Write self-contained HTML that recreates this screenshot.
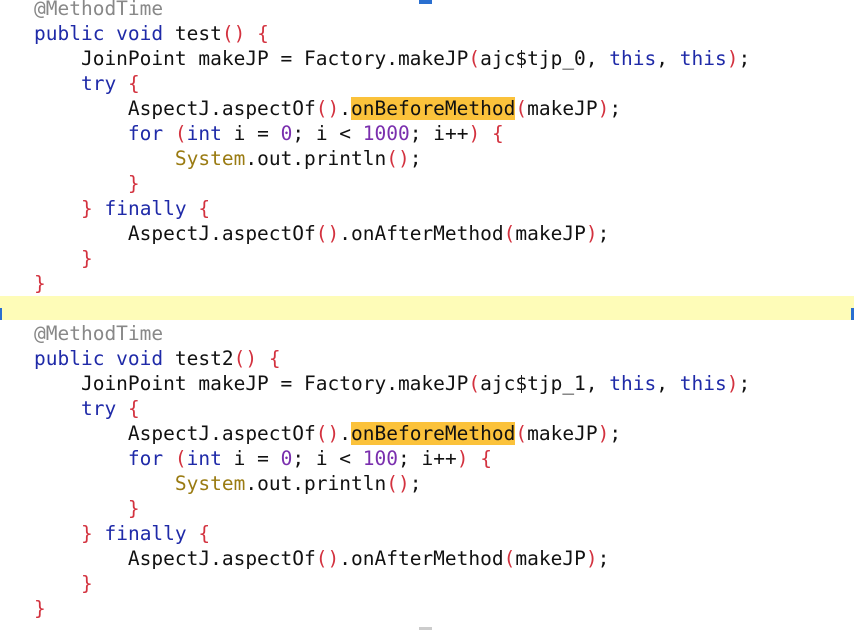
<!DOCTYPE html>
<html><head><meta charset="utf-8"><style>
html,body{margin:0;padding:0;background:#fff;width:854px;height:630px;overflow:hidden;position:relative}
.band{position:absolute;left:0;top:296px;width:854px;height:24px;background:#fefcb8}
.mk{position:absolute;background:#2a6fd0}
pre{position:absolute;left:34px;top:-4.5px;margin:0;font-family:"DejaVu Sans Mono","Liberation Mono",monospace;font-size:19.5px;line-height:25px;color:#111}
.k{color:#1f2aa8}.p{color:#d3323f}.n{color:#7a2fae}.a{color:#888}.s{color:#9a7b12}
.h{background:#fbc23b}
</style></head><body>
<div class="band"></div>
<div class="mk" style="left:419px;top:0;width:13px;height:4px"></div>
<div class="mk" style="left:0;top:308px;width:2px;height:12px"></div>
<div class="mk" style="left:851px;top:308px;width:3px;height:12px"></div>
<div class="mk" style="left:419px;top:627px;width:13px;height:3px;background:#ccc"></div>
<pre><span class="a">@MethodTime</span>
<span class="k">public void</span> test<span class="p">()</span> <span class="p">{</span>
    JoinPoint makeJP = Factory.makeJP<span class="p">(</span>ajc$tjp_0, <span class="k">this</span>, <span class="k">this</span><span class="p">)</span>;
    <span class="k">try</span> <span class="p">{</span>
        AspectJ.aspectOf<span class="p">()</span>.<span class="h">onBeforeMethod</span><span class="p">(</span>makeJP<span class="p">)</span>;
        <span class="k">for</span> <span class="p">(</span><span class="k">int</span> i = <span class="n">0</span>; i &lt; <span class="n">1000</span>; i++<span class="p">)</span> <span class="p">{</span>
            <span class="s">System</span>.out.println<span class="p">()</span>;
        <span class="p">}</span>
    <span class="p">}</span> <span class="k">finally</span> <span class="p">{</span>
        AspectJ.aspectOf<span class="p">()</span>.onAfterMethod<span class="p">(</span>makeJP<span class="p">)</span>;
    <span class="p">}</span>
<span class="p">}</span>

<span class="a">@MethodTime</span>
<span class="k">public void</span> test2<span class="p">()</span> <span class="p">{</span>
    JoinPoint makeJP = Factory.makeJP<span class="p">(</span>ajc$tjp_1, <span class="k">this</span>, <span class="k">this</span><span class="p">)</span>;
    <span class="k">try</span> <span class="p">{</span>
        AspectJ.aspectOf<span class="p">()</span>.<span class="h">onBeforeMethod</span><span class="p">(</span>makeJP<span class="p">)</span>;
        <span class="k">for</span> <span class="p">(</span><span class="k">int</span> i = <span class="n">0</span>; i &lt; <span class="n">100</span>; i++<span class="p">)</span> <span class="p">{</span>
            <span class="s">System</span>.out.println<span class="p">()</span>;
        <span class="p">}</span>
    <span class="p">}</span> <span class="k">finally</span> <span class="p">{</span>
        AspectJ.aspectOf<span class="p">()</span>.onAfterMethod<span class="p">(</span>makeJP<span class="p">)</span>;
    <span class="p">}</span>
<span class="p">}</span></pre>
</body></html>
